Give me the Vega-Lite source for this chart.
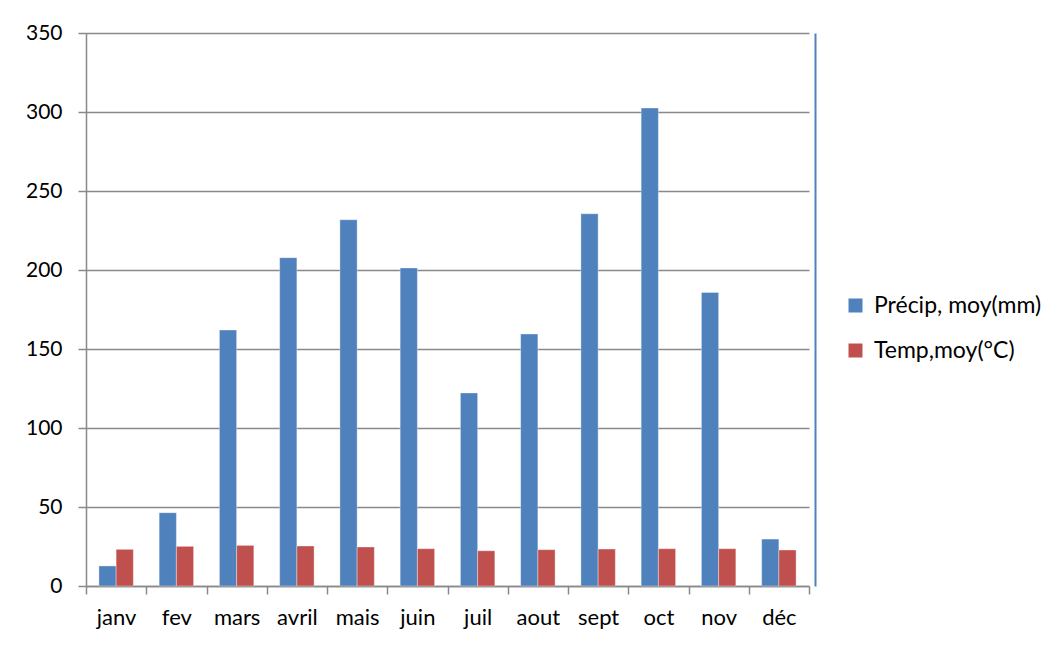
{
  "$schema": "https://vega.github.io/schema/vega-lite/v6.json",
  "autosize": "none",
  "width": 723,
  "height": 553,
  "padding": {"left": 86, "top": 33, "right": 248, "bottom": 61},
  "background": "white",
  "config": {
    "font": "Lato",
    "view": {"stroke": null},
    "axis": {"labelFont": "Lato", "labelFontSize": 21, "labelColor": "#000000"}
  },
  "data": {
    "values": [
      {"month": "janv", "serie": "Précip, moy(mm)", "value": 12.7},
      {"month": "janv", "serie": "Temp,moy(°C)", "value": 23.2},
      {"month": "fev", "serie": "Précip, moy(mm)", "value": 46.4},
      {"month": "fev", "serie": "Temp,moy(°C)", "value": 25.1},
      {"month": "mars", "serie": "Précip, moy(mm)", "value": 162.0},
      {"month": "mars", "serie": "Temp,moy(°C)", "value": 25.7},
      {"month": "avril", "serie": "Précip, moy(mm)", "value": 207.8},
      {"month": "avril", "serie": "Temp,moy(°C)", "value": 25.3},
      {"month": "mais", "serie": "Précip, moy(mm)", "value": 231.8},
      {"month": "mais", "serie": "Temp,moy(°C)", "value": 24.7},
      {"month": "juin", "serie": "Précip, moy(mm)", "value": 201.3},
      {"month": "juin", "serie": "Temp,moy(°C)", "value": 23.6},
      {"month": "juil", "serie": "Précip, moy(mm)", "value": 122.2},
      {"month": "juil", "serie": "Temp,moy(°C)", "value": 22.3},
      {"month": "aout", "serie": "Précip, moy(mm)", "value": 159.5},
      {"month": "aout", "serie": "Temp,moy(°C)", "value": 23.0},
      {"month": "sept", "serie": "Précip, moy(mm)", "value": 235.6},
      {"month": "sept", "serie": "Temp,moy(°C)", "value": 23.4},
      {"month": "oct", "serie": "Précip, moy(mm)", "value": 302.5},
      {"month": "oct", "serie": "Temp,moy(°C)", "value": 23.6},
      {"month": "nov", "serie": "Précip, moy(mm)", "value": 185.8},
      {"month": "nov", "serie": "Temp,moy(°C)", "value": 23.6},
      {"month": "déc", "serie": "Précip, moy(mm)", "value": 29.7},
      {"month": "déc", "serie": "Temp,moy(°C)", "value": 22.8}
    ]
  },
  "layer": [
    {
      "mark": {"type": "bar", "stroke": "#ffffff", "strokeOpacity": 0.35, "strokeWidth": 1},
      "encoding": {
        "x": {
          "field": "month",
          "type": "nominal",
          "sort": ["janv", "fev", "mars", "avril", "mais", "juin", "juil", "aout", "sept", "oct", "nov", "déc"],
          "scale": {"paddingInner": 0, "paddingOuter": 0},
          "axis": {
            "title": null,
            "labelAngle": 0,
            "labelFontSize": 22,
            "tickBand": "extent",
            "domainColor": "#898989",
            "domainWidth": 1.5,
            "tickColor": "#898989",
            "tickWidth": 1.5,
            "tickSize": 8,
            "labelPadding": 13,
            "labelBaseline": "top"
          }
        },
        "xOffset": {
          "field": "serie",
          "type": "nominal",
          "scale": {"paddingInner": 0, "paddingOuter": 0.75}
        },
        "y": {
          "field": "value",
          "type": "quantitative",
          "scale": {"domain": [0, 350], "nice": false, "zero": true},
          "axis": {
            "title": null,
            "values": [0, 50, 100, 150, 200, 250, 300, 350],
            "grid": true,
            "gridColor": "#898989",
            "gridWidth": 1.5,
            "gridOpacity": 1,
            "domainColor": "#898989",
            "domainWidth": 1.5,
            "tickColor": "#898989",
            "tickWidth": 1.5,
            "tickSize": 8,
            "labelPadding": 16,
            "labelBaseline": "middle"
          }
        },
        "color": {
          "field": "serie",
          "type": "nominal",
          "scale": {"domain": ["Précip, moy(mm)", "Temp,moy(°C)"], "range": ["#4F81BD", "#C0504D"]},
          "legend": {
            "title": null,
            "orient": "none",
            "legendX": 758,
            "legendY": 261,
            "symbolType": "square",
            "symbolSize": 196,
            "symbolStrokeWidth": 0,
            "labelFont": "Lato",
            "labelFontSize": 23,
            "labelColor": "#000000",
            "labelOffset": 7,
            "labelLimit": 300,
            "rowPadding": 21
          }
        }
      }
    },
    {
      "mark": {"type": "bar", "opacity": 0},
      "encoding": {
        "x": {"field": "month", "type": "nominal", "sort": ["janv", "fev", "mars", "avril", "mais", "juin", "juil", "aout", "sept", "oct", "nov", "déc"]},
        "y": {
          "field": "value",
          "type": "quantitative",
          "axis": {
            "orient": "right",
            "title": null,
            "labels": false,
            "ticks": false,
            "grid": false,
            "domainColor": "#4F81BD",
            "domainWidth": 2,
            "offset": 6
          }
        }
      }
    }
  ],
  "resolve": {"axis": {"y": "independent"}}
}
